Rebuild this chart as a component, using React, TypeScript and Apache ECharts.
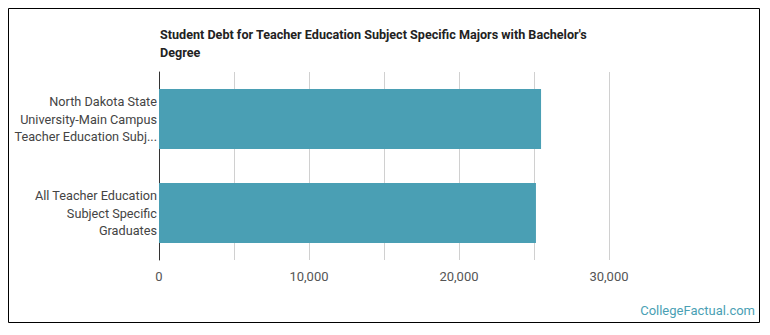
import React, { useEffect, useRef } from "react";
import * as echarts from "echarts";

const categories = [
  "North Dakota State\nUniversity-Main Campus\nTeacher Education Subj...",
  "All Teacher Education\nSubject Specific\nGraduates",
];
const debtValues = [25470, 25130];
const titleText =
  "Student Debt for Teacher Education Subject Specific Majors with Bachelor's\nDegree";
const watermark = "CollegeFactual.com";

export default function App() {
  const ref = useRef<HTMLDivElement>(null);
  useEffect(() => {
    document.body.style.margin = "0";
    const chart = echarts.init(ref.current!, null, { renderer: "svg" });
    chart.setOption({
      animation: false,
      textStyle: { fontFamily: "Roboto" },
      title: {
        text: titleText,
        left: 160,
        top: 25,
        padding: 0,
        textStyle: {
          fontFamily: "Roboto",
          fontSize: 12.6,
          fontWeight: "bold",
          color: "#222",
          lineHeight: 18,
        },
      },
      grid: { left: 159, right: 161, top: 72, bottom: 75, containLabel: false },
      xAxis: {
        type: "value",
        min: 0,
        max: 30000,
        interval: 5000,
        axisLine: { show: false },
        axisTick: { show: false },
        splitLine: { show: true, lineStyle: { color: "#d0d0d0", width: 1 } },
        axisLabel: {
          color: "#555",
          fontSize: 13,
          fontFamily: "Roboto",
          margin: 10,
          formatter: (v: number) =>
            v % 10000 === 0 ? v.toLocaleString("en-US") : "",
        },
      },
      yAxis: {
        type: "category",
        data: categories,
        inverse: true,
        axisLine: { show: true, lineStyle: { color: "#333", width: 1 } },
        axisTick: { show: false },
        axisLabel: {
          color: "#444",
          fontSize: 12.7,
          fontFamily: "Roboto",
          lineHeight: 17.5,
          margin: 2,
          align: "right",
        },
      },
      series: [
        {
          type: "bar",
          data: debtValues,
          barCategoryGap: "36%",
          itemStyle: { color: "#4a9fb4" },
        },
      ],
      graphic: [
        {
          type: "rect",
          shape: { x: 8.5, y: 8.5, width: 751, height: 314 },
          style: { fill: "none", stroke: "#000", lineWidth: 1 },
          silent: true,
        },
        {
          type: "text",
          right: 15,
          top: 304,
          style: {
            text: watermark,
            fill: "#4a9fb4",
            fontSize: 13,
            fontFamily: "Roboto",
          },
        },
      ],
    });
    return () => chart.dispose();
  }, []);
  return <div ref={ref} style={{ width: 770, height: 335 }} />;
}
